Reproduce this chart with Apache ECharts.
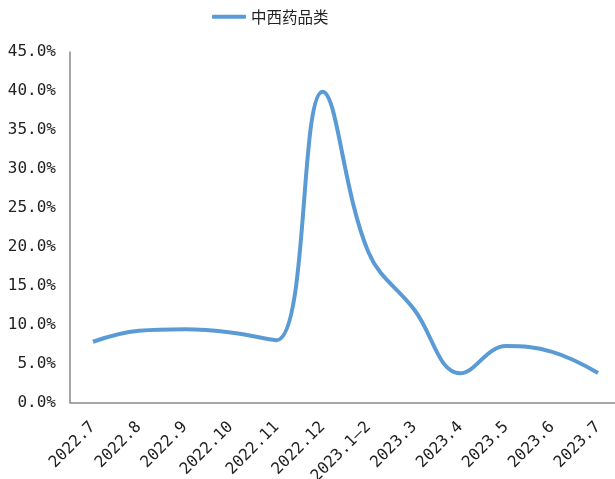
<!DOCTYPE html>
<html><head><meta charset="utf-8">
<script src="https://cdn.jsdelivr.net/npm/echarts@6/dist/echarts.min.js"></script>
<style>html,body{margin:0;padding:0;background:#fff}#c{width:615px;height:479px}</style>
</head><body><div id="c"></div>
<script>
const categories = ['2022.7','2022.8','2022.9','2022.10','2022.11','2022.12','2023.1\u20132','2023.3','2023.4','2023.5','2023.6','2023.7'];
const seriesName = '中西药品类';
const values = [7.8, 9.2, 9.4, 9.0, 8.0, 39.9, 19.3, 11.9, 3.75, 7.25, 6.5, 3.8];
const yTicks = [0,5,10,15,20,25,30,35,40,45];

const chart = echarts.init(document.getElementById('c'));
chart.setOption({
  animation: false,
  legend: {
    top: 4, left: 207,
    itemWidth: 34, itemHeight: 4, itemGap: 6,
    icon: 'roundRect',
    textStyle: {fontFamily: 'Noto Sans CJK SC', fontSize: 15.5, color: '#222'},
    data: [seriesName]
  },
  grid: {left: 70, top: 52, width: 551, height: 350.5, containLabel: false, outerBoundsMode: 'none'},
  xAxis: {
    type: 'category', data: categories, boundaryGap: true,
    axisLine: {lineStyle: {color: '#898989', width: 1.5}},
    axisTick: {show: false},
    axisLabel: {rotate: 45, interval: 0, fontFamily: 'DejaVu Sans Mono', fontSize: 16, color: '#222', margin: 22}
  },
  yAxis: {
    type: 'value', min: 0, max: 45, interval: 5,
    axisLine: {show: true, lineStyle: {color: '#898989', width: 1.5}},
    axisTick: {show: false},
    splitLine: {show: false},
    axisLabel: {fontFamily: 'DejaVu Sans Mono', fontSize: 16, color: '#222', margin: 14,
      formatter: v => yTicks.includes(v) ? v.toFixed(1) + '%' : ''}
  },
  series: [{
    name: seriesName, type: 'line', data: values, smooth: 0.4,
    showSymbol: false, symbol: 'none',
    lineStyle: {color: '#5B9BD5', width: 4},
    itemStyle: {color: '#5B9BD5'}
  }]
});
</script></body></html>
